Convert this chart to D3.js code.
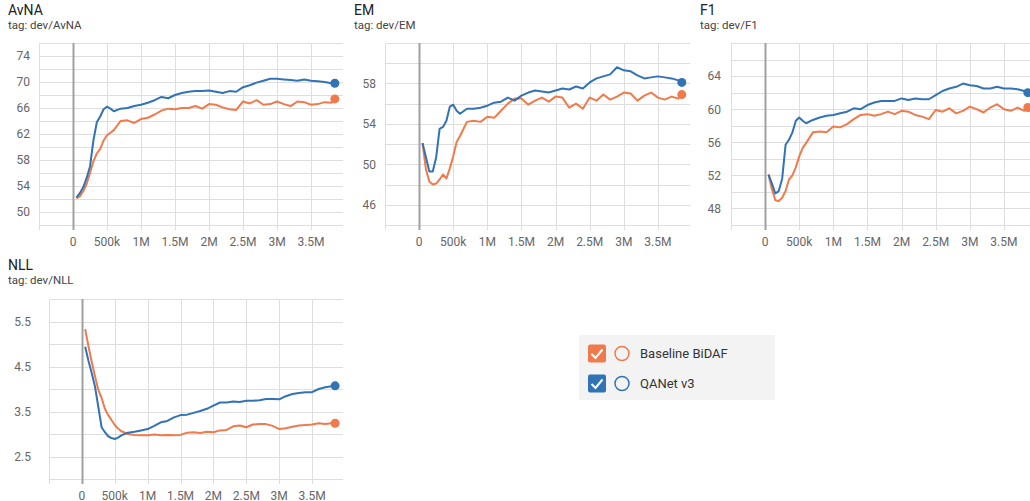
<!DOCTYPE html>
<html>
<head>
<meta charset="utf-8">
<script src="https://cdn.jsdelivr.net/npm/d3@7"></script>
<style>
  body { margin: 0; background: #fff; }
  svg { display: block; font-family: Roboto, "Noto Sans", sans-serif; }
</style>
</head>
<body>
<div id="chart"></div>
<script>
// training steps shared by every run
var steps = [50e3, 100e3, 150e3, 200e3, 250e3, 300e3, 350e3, 400e3, 450e3, 500e3, 550e3, 600e3,
  700e3, 800e3, 900e3, 1000e3, 1100e3, 1200e3, 1300e3, 1400e3, 1500e3, 1600e3, 1700e3, 1800e3,
  1900e3, 2000e3, 2100e3, 2200e3, 2300e3, 2400e3, 2500e3, 2600e3, 2700e3, 2800e3, 2900e3, 3000e3,
  3100e3, 3200e3, 3300e3, 3400e3, 3500e3, 3600e3, 3700e3, 3800e3, 3850e3];

var runs = ["Baseline BiDAF", "QANet v3"];
var runColors = ["#f07a4c", "#3273b6"];

var avnaBaseline = [52.1, 52.4, 53.2, 54.3, 56.0, 57.8, 59.0, 59.7, 61.0, 61.8, 62.2, 62.6,
  64.0, 64.1, 63.7, 64.3, 64.5, 65.0, 65.6, 65.9, 65.8, 66.0, 66.0, 66.3, 65.9, 66.6, 66.5, 66.1,
  65.8, 65.7, 67.0, 66.7, 67.2, 66.5, 66.6, 67.0, 66.6, 66.3, 67.0, 66.9, 66.5, 66.6, 66.9, 66.8, 67.4];
var avnaQanet = [52.2, 52.9, 53.8, 55.2, 57.0, 61.0, 63.8, 64.7, 65.8, 66.2, 65.9, 65.5,
  65.9, 66.0, 66.3, 66.5, 66.8, 67.2, 67.7, 67.5, 68.0, 68.3, 68.5, 68.6, 68.6, 68.7, 68.5, 68.3,
  68.6, 68.5, 69.2, 69.5, 69.9, 70.2, 70.5, 70.5, 70.4, 70.3, 70.2, 70.4, 70.2, 70.1, 70.0, 69.8, 69.8];

var emBaseline = [52.1, 49.5, 48.3, 48.0, 48.1, 48.5, 49.0, 48.6, 49.6, 50.8, 52.2, 52.8,
  54.2, 54.3, 54.2, 54.7, 54.6, 55.3, 56.0, 56.5, 56.5, 55.9, 56.3, 56.6, 56.2, 56.7, 56.6, 55.6,
  56.0, 55.5, 56.6, 56.3, 56.9, 56.4, 56.7, 57.1, 57.0, 56.3, 56.8, 57.1, 56.6, 56.4, 56.7, 56.5, 56.9];
var emQanet = [52.1, 50.7, 49.3, 49.3, 50.7, 53.5, 53.7, 54.3, 55.7, 55.9, 55.3, 55.0,
  55.5, 55.5, 55.6, 55.8, 56.1, 56.2, 56.6, 56.3, 56.8, 57.1, 57.3, 57.2, 57.1, 57.3, 57.5, 57.4,
  57.7, 57.5, 58.1, 58.5, 58.7, 58.9, 59.6, 59.3, 59.2, 58.8, 58.5, 58.6, 58.7, 58.6, 58.5, 58.3, 58.1];

var f1Baseline = [52.1, 50.3, 49.0, 48.9, 49.3, 50.1, 51.5, 52.0, 53.0, 54.3, 55.3, 55.9,
  57.2, 57.3, 57.2, 57.9, 57.8, 58.2, 58.8, 59.3, 59.4, 59.2, 59.4, 59.7, 59.4, 59.8, 59.7, 59.3,
  59.1, 58.8, 59.9, 59.7, 60.1, 59.5, 59.8, 60.3, 60.0, 59.6, 60.2, 60.6, 60.0, 59.8, 60.2, 59.8, 60.2];
var f1Qanet = [52.1, 51.0, 49.8, 50.1, 51.6, 55.7, 56.3, 57.2, 58.6, 59.0, 58.6, 58.3,
  58.7, 59.0, 59.2, 59.3, 59.5, 59.7, 60.1, 60.0, 60.5, 60.8, 61.0, 61.0, 61.0, 61.3, 61.1, 61.3,
  61.2, 61.2, 61.7, 62.2, 62.5, 62.7, 63.1, 62.9, 62.8, 62.5, 62.5, 62.7, 62.5, 62.5, 62.4, 62.2, 62.0];

var nllBaseline = [5.33, 4.95, 4.60, 4.28, 3.98, 3.80, 3.56, 3.42, 3.31, 3.20, 3.12, 3.06,
  3.00, 2.98, 2.97, 2.97, 2.99, 2.97, 2.98, 2.97, 2.98, 3.03, 3.04, 3.02, 3.05, 3.04, 3.08, 3.09,
  3.17, 3.19, 3.15, 3.21, 3.22, 3.22, 3.18, 3.11, 3.13, 3.16, 3.19, 3.20, 3.21, 3.24, 3.22, 3.24, 3.24];
var nllQanet = [4.94, 4.63, 4.35, 4.05, 3.60, 3.15, 3.04, 2.95, 2.91, 2.89, 2.92, 2.97,
  3.03, 3.05, 3.08, 3.11, 3.18, 3.26, 3.29, 3.37, 3.42, 3.43, 3.47, 3.51, 3.56, 3.63, 3.70, 3.70,
  3.72, 3.71, 3.74, 3.74, 3.75, 3.78, 3.78, 3.77, 3.84, 3.89, 3.91, 3.93, 3.93, 4.00, 4.04, 4.06, 4.07];

var xTicks = [0, 500e3, 1e6, 1.5e6, 2e6, 2.5e6, 3e6, 3.5e6];
var xTickLabels = ["0", "500k", "1M", "1.5M", "2M", "2.5M", "3M", "3.5M"];

//Panel layout, one entry per chart
var panels = [
  { title: "AvNA", tag: "tag: dev/AvNA", series: [avnaBaseline, avnaQanet],
    x0: 39, x1: 343, y0: 225, y1: 43, tx: 8, ty: 15, yDomain: [48, 76], gridStep: 2,
    yLabels: [50, 54, 58, 62, 66, 70, 74], labelX: 30 },
  { title: "EM", tag: "tag: dev/EM", series: [emBaseline, emQanet],
    x0: 385, x1: 690, y0: 225, y1: 43, tx: 354, ty: 15, yDomain: [44, 62], gridStep: 2,
    yLabels: [46, 50, 54, 58], labelX: 376 },
  { title: "F1", tag: "tag: dev/F1", series: [f1Baseline, f1Qanet],
    x0: 731, x1: 1036, y0: 225, y1: 43, tx: 700, ty: 15, yDomain: [46, 68], gridStep: 2,
    yLabels: [48, 52, 56, 60, 64], labelX: 721 },
  { title: "NLL", tag: "tag: dev/NLL", series: [nllBaseline, nllQanet],
    x0: 49, x1: 343, y0: 479, y1: 299, tx: 8, ty: 270, yDomain: [2, 6], gridStep: 0.5,
    yLabels: [2.5, 3.5, 4.5, 5.5], labelX: 31 }
];

var w = 1030, h = 501;
var svg = d3.select("#chart").append("svg").attr("width", w).attr("height", h);

panels.forEach(function(p, pi) {
  var x = d3.scaleLinear().domain([-500e3, 3.97e6]).range([p.x0, p.x1]);
  var y = d3.scaleLinear().domain(p.yDomain).range([p.y0, p.y1]);
  var g = svg.append("g");

  g.append("text").attr("x", p.tx).attr("y", p.ty)
    .attr("font-size", 14).attr("fill", "#212121").text(p.title);
  g.append("text").attr("x", p.tx).attr("y", p.ty + 14)
    .attr("font-size", 11.5).attr("fill", "#444").text(p.tag);

  //horizontal grid
  var yGrid = d3.range(p.yDomain[0], p.yDomain[1] + p.gridStep / 2, p.gridStep);
  g.selectAll(".hg").data(yGrid).enter().append("line")
    .attr("x1", p.x0).attr("x2", p.x1)
    .attr("y1", function(d) { return Math.round(y(d)) + 0.5; })
    .attr("y2", function(d) { return Math.round(y(d)) + 0.5; })
    .attr("stroke", "#dedede").attr("stroke-width", 1);

  //vertical grid with small ticks below the axis
  var xGrid = [-500e3].concat(xTicks);
  g.selectAll(".vg").data(xGrid).enter().append("line")
    .attr("x1", function(d) { return Math.round(x(d)) + 0.5; })
    .attr("x2", function(d) { return Math.round(x(d)) + 0.5; })
    .attr("y1", p.y1).attr("y2", p.y0 + 5)
    .attr("stroke", function(d) { return d === 0 ? "#a0a0a0" : "#dedede"; })
    .attr("stroke-width", function(d) { return d === 0 ? 2 : 1; });

  g.selectAll(".xl").data(xTicks).enter().append("text")
    .attr("x", function(d) { return x(d); })
    .attr("y", p.y0 + 20.5)
    .attr("text-anchor", "middle")
    .attr("font-size", 12).attr("fill", "#666")
    .text(function(d, i) { return xTickLabels[i]; });

  g.selectAll(".yl").data(p.yLabels).enter().append("text")
    .attr("x", p.labelX).attr("y", function(d) { return y(d); })
    .attr("dy", "0.36em").attr("text-anchor", "end")
    .attr("font-size", 12).attr("fill", "#666")
    .text(function(d) { return d3.format(p.gridStep < 1 ? ".1f" : "d")(d); });

  var line = d3.line()
    .x(function(d, i) { return x(steps[i]); })
    .y(function(d) { return y(d); });

  p.series.forEach(function(vals, si) {
    g.append("path").datum(vals)
      .attr("d", line)
      .attr("fill", "none")
      .attr("stroke", runColors[si])
      .attr("stroke-width", 2)
      .attr("stroke-linejoin", "round");
    g.append("circle")
      .attr("cx", x(steps[steps.length - 1]))
      .attr("cy", y(vals[vals.length - 1]))
      .attr("r", 4.5)
      .attr("fill", runColors[si]);
  });
});

//Legend box
var legend = svg.append("g");
legend.append("rect").attr("x", 579).attr("y", 335).attr("width", 196).attr("height", 65)
  .attr("fill", "#f3f3f3");

runs.forEach(function(name, i) {
  var cy = 353.5 + i * 30;
  legend.append("rect").attr("x", 588).attr("y", cy - 9).attr("width", 18).attr("height", 18)
    .attr("rx", 2).attr("fill", runColors[i]);
  legend.append("path")
    .attr("d", "M" + 591.5 + "," + (cy + 0.5) + " L" + 595.5 + "," + (cy + 4.5) + " L" + 602.5 + "," + (cy - 4))
    .attr("fill", "none").attr("stroke", "#fff").attr("stroke-width", 2);
  legend.append("circle").attr("cx", 622).attr("cy", cy).attr("r", 7)
    .attr("fill", "none").attr("stroke", runColors[i]).attr("stroke-width", 1.5);
  legend.append("text").attr("x", 640).attr("y", cy).attr("dy", "0.36em")
    .attr("font-size", 13).attr("fill", "#333").text(name);
});
</script>
</body>
</html>
